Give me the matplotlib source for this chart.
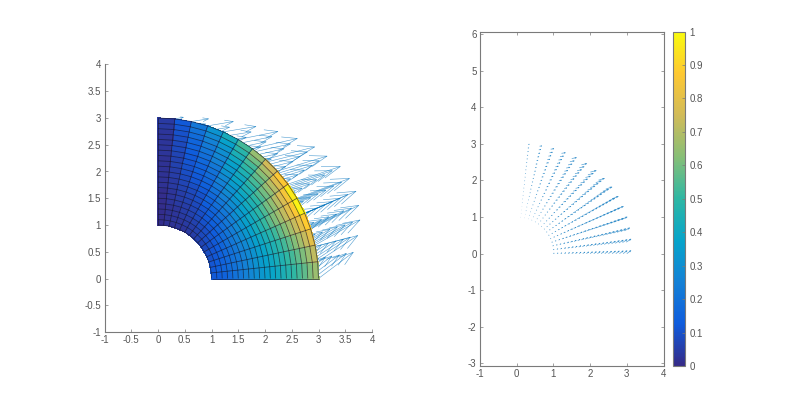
import numpy as np
import matplotlib
matplotlib.use('Agg')
import matplotlib.pyplot as plt
from matplotlib.collections import LineCollection
from matplotlib.colors import LinearSegmentedColormap

# mesh nodes
radii = [1.0, 1.1, 1.2, 1.3, 1.4, 1.5, 1.6, 1.7, 1.8, 1.9, 2.0, 2.1, 2.2, 2.3, 2.4, 2.5, 2.6, 2.7, 2.8, 2.9, 3.0]
angles_deg = [0, 6, 12, 18, 24, 30, 36, 42, 48, 54, 60, 66, 72, 78, 84, 90]

# vector components, one row per angle, one column per radius
u_vals = [
    [.11, .14, .16, .19, .21, .24, .27, .29, .32, .34, .37, .40, .42, .45, .47, .50, .53, .55, .59, .62, .65],
    [.12, .15, .18, .21, .24, .27, .30, .33, .36, .39, .42, .45, .48, .51, .54, .57, .60, .64, .68, .71, .75],
    [.12, .15, .18, .22, .25, .29, .32, .35, .39, .42, .45, .49, .52, .55, .59, .63, .67, .71, .76, .80, .84],
    [.11, .14, .18, .22, .25, .29, .32, .36, .40, .43, .47, .50, .54, .59, .63, .68, .72, .77, .81, .86, .90],
    [.10, .13, .16, .20, .24, .28, .32, .36, .39, .43, .47, .51, .55, .60, .64, .69, .75, .80, .85, .90, .96],
    [.09, .12, .15, .19, .23, .26, .30, .34, .38, .42, .46, .50, .54, .59, .64, .69, .74, .80, .86, .92, .98],
    [.08, .11, .14, .17, .21, .25, .28, .32, .36, .40, .44, .48, .52, .57, .62, .67, .73, .78, .85, .91, .98],
    [.07, .09, .12, .15, .18, .21, .25, .29, .33, .36, .40, .44, .47, .52, .57, .62, .68, .73, .80, .86, .93],
    [.06, .08, .11, .14, .17, .19, .23, .27, .30, .34, .38, .41, .45, .50, .54, .60, .65, .72, .78, .85, .92],
    [.05, .07, .09, .12, .14, .17, .20, .24, .27, .30, .34, .37, .40, .45, .49, .54, .59, .65, .71, .77, .84],
    [.04, .06, .08, .10, .13, .15, .18, .21, .24, .27, .30, .33, .36, .39, .43, .47, .52, .57, .62, .68, .74],
    [.03, .05, .07, .09, .10, .12, .15, .17, .20, .22, .24, .27, .29, .32, .35, .39, .43, .47, .51, .56, .61],
    [.03, .04, .05, .07, .08, .10, .12, .13, .15, .17, .19, .21, .23, .25, .28, .31, .34, .37, .40, .44, .48],
    [.02, .03, .04, .04, .05, .06, .08, .09, .10, .12, .13, .14, .15, .17, .19, .20, .22, .25, .27, .29, .32],
    [.01, .01, .02, .02, .03, .03, .04, .04, .05, .06, .06, .07, .08, .08, .09, .10, .11, .12, .13, .15, .16],
    [0, 0, 0, 0, 0, 0, 0, 0, 0, 0, 0, 0, 0, 0, 0, 0, 0, 0, 0, 0, 0],
]
v_vals = [
    [.08, .10, .12, .14, .16, .18, .20, .22, .24, .26, .28, .30, .32, .34, .36, .38, .40, .42, .44, .47, .49],
    [.08, .10, .12, .14, .16, .18, .20, .22, .24, .25, .27, .29, .31, .33, .35, .37, .39, .42, .44, .47, .49],
    [.07, .08, .10, .12, .14, .16, .18, .20, .22, .24, .25, .27, .29, .31, .33, .35, .38, .40, .42, .45, .47],
    [.05, .07, .09, .11, .12, .14, .16, .18, .19, .21, .23, .25, .26, .29, .31, .33, .35, .37, .40, .42, .44],
    [.04, .06, .07, .09, .10, .12, .14, .15, .17, .18, .20, .22, .23, .25, .27, .30, .32, .34, .36, .39, .41],
    [.03, .04, .06, .07, .09, .10, .11, .13, .14, .16, .17, .19, .20, .22, .24, .26, .28, .30, .33, .35, .37],
    [.03, .04, .05, .06, .07, .08, .10, .11, .12, .14, .15, .16, .17, .19, .21, .22, .24, .26, .29, .31, .33],
    [.02, .03, .04, .04, .05, .06, .08, .09, .10, .11, .12, .13, .14, .16, .17, .19, .20, .22, .24, .26, .28],
    [.01, .02, .03, .03, .04, .05, .06, .07, .08, .09, .09, .10, .11, .12, .14, .15, .16, .18, .20, .21, .23],
    [.01, .02, .02, .03, .03, .04, .05, .05, .06, .07, .08, .08, .09, .10, .11, .12, .13, .15, .16, .17, .19],
    [.01, .01, .02, .02, .03, .03, .04, .04, .05, .05, .06, .07, .07, .08, .09, .10, .11, .12, .13, .14, .15],
    [.01, .01, .01, .01, .02, .02, .02, .03, .03, .04, .04, .04, .05, .05, .06, .06, .07, .08, .08, .09, .10],
    [.00, .01, .01, .01, .01, .02, .02, .02, .03, .03, .03, .04, .04, .04, .05, .05, .06, .06, .07, .07, .08],
    [.00, .00, .01, .01, .01, .01, .01, .01, .02, .02, .02, .02, .02, .03, .03, .03, .03, .04, .04, .05, .05],
    [0, 0, 0, 0, .01, .01, .01, .01, .01, .01, .01, .01, .01, .02, .02, .02, .02, .02, .03, .03, .03],
    [0, 0, 0, 0, 0, 0, 0, 0, 0, 0, 0, 0, 0, 0, 0, 0, 0, 0, 0, 0, 0],
]

# cell colour values, one row per sector, one column per radial band
cell_vals = [
    [.12, .13, .15, .17, .20, .22, .25, .27, .30, .33, .35, .38, .41, .44, .47, .50, .53, .57, .61, .66],
    [.12, .14, .16, .18, .20, .23, .25, .28, .31, .34, .37, .40, .43, .46, .50, .53, .57, .61, .66, .72],
    [.11, .13, .15, .17, .20, .22, .25, .28, .31, .35, .38, .42, .45, .49, .53, .57, .62, .67, .73, .80],
    [.10, .12, .14, .17, .19, .22, .25, .28, .32, .36, .40, .44, .48, .52, .57, .62, .67, .73, .80, .88],
    [.09, .11, .13, .16, .19, .22, .25, .29, .33, .37, .42, .46, .51, .56, .61, .66, .72, .79, .87, .98],
    [.08, .10, .12, .15, .18, .21, .24, .28, .32, .36, .40, .44, .49, .54, .59, .64, .70, .77, .85, .96],
    [.07, .09, .11, .13, .16, .19, .22, .25, .29, .33, .37, .41, .45, .49, .54, .59, .64, .70, .78, .87],
    [.06, .08, .09, .11, .14, .16, .19, .22, .25, .29, .32, .36, .40, .44, .48, .53, .57, .62, .68, .75],
    [.05, .06, .08, .10, .12, .14, .16, .19, .22, .25, .28, .31, .34, .38, .41, .45, .49, .53, .59, .65],
    [.04, .05, .06, .08, .09, .11, .13, .15, .17, .20, .22, .25, .28, .31, .34, .37, .40, .44, .48, .53],
    [.03, .04, .05, .06, .07, .08, .09, .10, .12, .14, .16, .18, .20, .22, .25, .27, .30, .33, .37, .42],
    [.03, .03, .04, .05, .05, .06, .07, .08, .09, .11, .12, .14, .15, .17, .19, .21, .23, .25, .28, .32],
    [.02, .03, .03, .03, .04, .05, .05, .06, .07, .08, .09, .10, .11, .12, .13, .15, .16, .18, .20, .22],
    [.02, .02, .02, .02, .03, .03, .03, .04, .04, .05, .05, .06, .06, .07, .08, .08, .09, .10, .11, .12],
    [.01, .01, .01, .01, .01, .01, .01, .02, .02, .02, .02, .02, .02, .03, .03, .03, .03, .03, .04, .04],
]

left_ticks = [-1, -0.5, 0, 0.5, 1, 1.5, 2, 2.5, 3, 3.5, 4]
right_xticks = [-1, 0, 1, 2, 3, 4]
right_yticks = [-3, -2, -1, 0, 1, 2, 3, 4, 5, 6]
cbar_ticks = [0, 0.1, 0.2, 0.3, 0.4, 0.5, 0.6, 0.7, 0.8, 0.9, 1]

parula_colors = ['#352A87', '#0F5CDD', '#1481D6', '#06A4CA', '#2EB7A4',
                 '#87BF77', '#D1BB59', '#FEC832', '#F9FB0E']

GREY = '#7a7a7a'
TEXT = '#555555'
ARROW = '#0072BD'
W, H = 800.0, 411.0

plt.rcParams['font.family'] = ['Liberation Sans', 'DejaVu Sans']
plt.rcParams['font.size'] = 7
plt.rcParams['axes.unicode_minus'] = False


def make_axes(fig, left, right, top, bottom):
    return fig.add_axes([left / W, 1 - bottom / H, (right - left) / W, (bottom - top) / H])


def style_axes(ax, xticks, yticks, box):
    ax.set_xticks(xticks)
    ax.set_yticks(yticks)
    ax.set_xticklabels(['%g' % t for t in xticks])
    ax.set_yticklabels(['%g' % t for t in yticks])
    ax.tick_params(direction='in', length=2.2, width=0.5, color=GREY, labelcolor=TEXT, pad=2.5,
                   top=box, right=box)
    for name, spine in ax.spines.items():
        spine.set_color(GREY)
        spine.set_linewidth(0.8)
        if name in ('top', 'right'):
            spine.set_visible(box)


def draw_arrows(ax, x, y, u, v, scale, lw, alpha, zorder):
    # shaft and two open barbs like matlab's quiver
    du = u * scale
    dv = v * scale
    tx = x + du
    ty = y + dv
    segs = []
    for i in range(x.size):
        xi, yi = x.flat[i], y.flat[i]
        a, b = du.flat[i], dv.flat[i]
        p, q = tx.flat[i], ty.flat[i]
        segs.append([(xi, yi), (p, q)])
        segs.append([(p - 0.33 * (a + 0.33 * b), q - 0.33 * (b - 0.33 * a)), (p, q),
                     (p - 0.33 * (a - 0.33 * b), q - 0.33 * (b + 0.33 * a))])
    ax.add_collection(LineCollection(segs, colors=ARROW, linewidths=lw, alpha=alpha, zorder=zorder))


r = np.array(radii)
t = np.radians(angles_deg)
X = np.outer(np.cos(t), r)
Y = np.outer(np.sin(t), r)
U = np.array(u_vals, dtype=float)
V = np.array(v_vals, dtype=float)

parula = LinearSegmentedColormap.from_list('parula', parula_colors, N=256)

fig = plt.figure(figsize=(8, 4.11), dpi=100)

ax1 = make_axes(fig, 104.5, 372, 64.5, 332)
draw_arrows(ax1, X, Y, U, V, 1.0, 0.4, 0.7, 1)
ax1.pcolormesh(X, Y, np.array(cell_vals), cmap=parula, vmin=0, vmax=1, shading='flat',
               edgecolors='face', linewidth=0.2, zorder=2)
# mesh lines, spokes then arcs
spokes = [np.column_stack((X[i], Y[i])) for i in range(X.shape[0])]
arcs = [np.column_stack((X[:, j], Y[:, j])) for j in range(X.shape[1])]
ax1.add_collection(LineCollection(spokes + arcs, colors='#15152a', linewidths=0.6, alpha=0.65, zorder=3))
ax1.set_xlim(-1, 4)
ax1.set_ylim(-1, 4)
style_axes(ax1, left_ticks, left_ticks, False)

ax2 = make_axes(fig, 480, 663.5, 31.5, 366)
draw_arrows(ax2, X, Y, U, V, 0.17, 0.55, 0.6, 1)
ax2.set_xlim(-1, 4)
ax2.set_ylim(-3.07, 6.07)
style_axes(ax2, right_xticks, right_yticks, True)

cax = make_axes(fig, 673, 685, 31.5, 366)
sm = plt.cm.ScalarMappable(cmap=parula, norm=plt.Normalize(0, 1))
cb = fig.colorbar(sm, cax=cax, ticks=cbar_ticks)
cb.ax.set_yticklabels(['%g' % t for t in cbar_ticks])
cb.ax.tick_params(direction='in', length=2.2, width=0.5, color=GREY, labelcolor=TEXT, pad=3)
cb.outline.set_edgecolor(GREY)
cb.outline.set_linewidth(0.8)

fig.savefig('out.png', dpi=100)
